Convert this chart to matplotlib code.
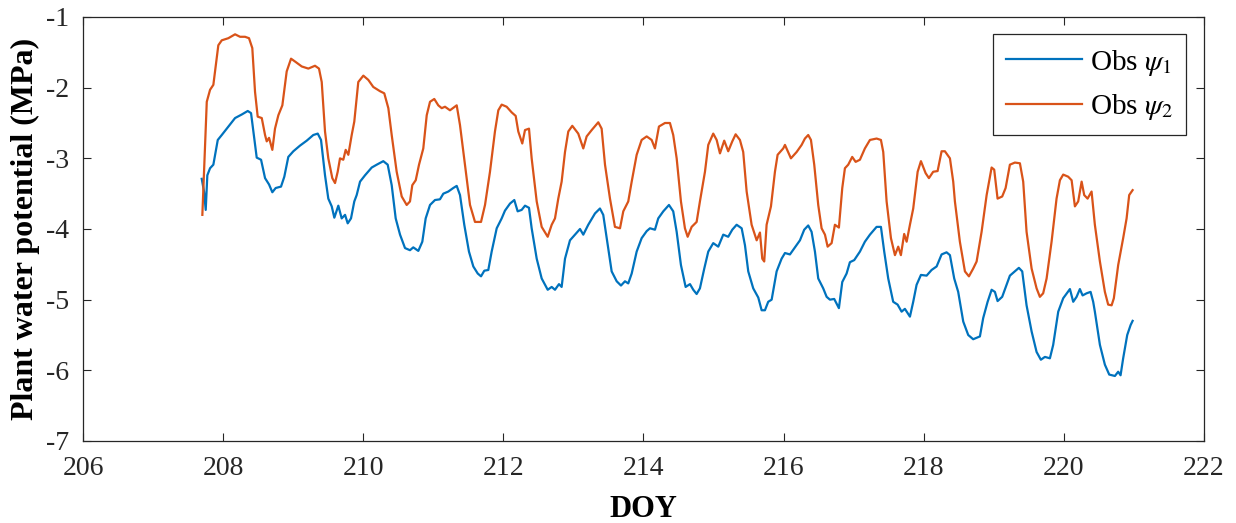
import numpy as np
import matplotlib
matplotlib.use("Agg")
import matplotlib.pyplot as plt

plt.rcParams['font.family'] = ['Liberation Serif', 'DejaVu Serif']
plt.rcParams['mathtext.fontset'] = 'stix'
plt.rcParams['axes.unicode_minus'] = False

# observed psi_1 (blue)
doy1 = [207.694, 207.727, 207.751, 207.774, 207.813, 207.860, 207.923, 207.980, 208.074, 208.170,
        208.265, 208.351, 208.398, 208.445, 208.479, 208.541, 208.598, 208.655, 208.702, 208.750,
        208.826, 208.873, 208.930, 209.002, 209.097, 209.193, 209.287, 209.350, 209.397, 209.454,
        209.501, 209.550, 209.587, 209.644, 209.692, 209.740, 209.778, 209.825, 209.872, 209.906,
        209.954, 210.025, 210.121, 210.192, 210.286, 210.349, 210.406, 210.463, 210.525, 210.596,
        210.667, 210.714, 210.786, 210.843, 210.891, 210.953, 211.024, 211.095, 211.143, 211.214,
        211.285, 211.334, 211.381, 211.442, 211.509, 211.571, 211.634, 211.681, 211.728, 211.785,
        211.833, 211.905, 211.976, 212.023, 212.095, 212.156, 212.204, 212.261, 212.309, 212.366,
        212.404, 212.476, 212.547, 212.633, 212.690, 212.737, 212.794, 212.832, 212.880, 212.951,
        213.023, 213.094, 213.141, 213.212, 213.308, 213.379, 213.426, 213.475, 213.546, 213.618,
        213.679, 213.736, 213.783, 213.832, 213.903, 213.974, 214.046, 214.093, 214.164, 214.211,
        214.283, 214.364, 214.425, 214.474, 214.535, 214.602, 214.664, 214.711, 214.759, 214.806,
        214.868, 214.925, 214.996, 215.068, 215.139, 215.210, 215.268, 215.330, 215.402, 215.449,
        215.496, 215.567, 215.639, 215.687, 215.734, 215.781, 215.830, 215.901, 215.972, 216.020,
        216.091, 216.162, 216.234, 216.295, 216.352, 216.400, 216.448, 216.495, 216.566, 216.615,
        216.662, 216.723, 216.790, 216.838, 216.900, 216.947, 217.009, 217.090, 217.161, 217.233,
        217.328, 217.390, 217.437, 217.494, 217.565, 217.628, 217.685, 217.732, 217.804, 217.851,
        217.899, 217.961, 218.042, 218.113, 218.185, 218.256, 218.327, 218.375, 218.436, 218.493,
        218.565, 218.636, 218.707, 218.803, 218.850, 218.913, 218.970, 219.017, 219.055, 219.121,
        219.184, 219.231, 219.302, 219.359, 219.407, 219.469, 219.541, 219.612, 219.673, 219.731,
        219.802, 219.849, 219.921, 219.992, 220.088, 220.135, 220.183, 220.230, 220.269, 220.326,
        220.383, 220.420, 220.444, 220.516, 220.587, 220.649, 220.730, 220.777, 220.811, 220.848,
        220.906, 220.954, 220.983]
psi1 = [-3.29, -3.47, -3.73, -3.24, -3.14, -3.09, -2.74, -2.67, -2.55, -2.43,
        -2.38, -2.33, -2.36, -2.72, -2.99, -3.02, -3.28, -3.37, -3.48, -3.42,
        -3.40, -3.26, -2.98, -2.90, -2.82, -2.75, -2.67, -2.65, -2.74, -3.24,
        -3.57, -3.68, -3.84, -3.67, -3.85, -3.80, -3.92, -3.85, -3.61, -3.52,
        -3.33, -3.24, -3.13, -3.09, -3.04, -3.09, -3.38, -3.85, -4.08, -4.27,
        -4.30, -4.26, -4.31, -4.18, -3.85, -3.66, -3.59, -3.58, -3.50, -3.47,
        -3.42, -3.39, -3.52, -3.94, -4.32, -4.53, -4.63, -4.67, -4.59, -4.58,
        -4.32, -3.99, -3.85, -3.74, -3.64, -3.59, -3.75, -3.73, -3.67, -3.70,
        -3.99, -4.42, -4.70, -4.86, -4.82, -4.86, -4.78, -4.82, -4.42, -4.16,
        -4.08, -4.00, -4.08, -3.94, -3.78, -3.71, -3.80, -4.13, -4.60, -4.74,
        -4.80, -4.74, -4.77, -4.63, -4.32, -4.13, -4.03, -3.99, -4.01, -3.85,
        -3.75, -3.66, -3.75, -4.04, -4.51, -4.82, -4.78, -4.86, -4.92, -4.84,
        -4.56, -4.32, -4.20, -4.25, -4.08, -4.11, -4.01, -3.94, -3.99, -4.23,
        -4.60, -4.84, -4.97, -5.15, -5.15, -5.03, -5.00, -4.60, -4.42, -4.34,
        -4.36, -4.26, -4.16, -4.01, -3.95, -4.04, -4.32, -4.70, -4.84, -4.96,
        -5.00, -4.99, -5.12, -4.75, -4.63, -4.47, -4.44, -4.32, -4.18, -4.08,
        -3.97, -3.97, -4.32, -4.70, -5.03, -5.07, -5.17, -5.13, -5.24, -5.03,
        -4.79, -4.65, -4.66, -4.58, -4.53, -4.36, -4.33, -4.37, -4.70, -4.89,
        -5.31, -5.50, -5.56, -5.52, -5.26, -5.03, -4.86, -4.89, -5.02, -4.96,
        -4.79, -4.66, -4.60, -4.55, -4.60, -5.08, -5.45, -5.74, -5.85, -5.81,
        -5.83, -5.64, -5.17, -4.98, -4.85, -5.03, -4.96, -4.85, -4.94, -4.91,
        -4.89, -5.03, -5.17, -5.64, -5.92, -6.06, -6.08, -6.02, -6.07, -5.83,
        -5.50, -5.36, -5.30]

# observed psi_2 (orange)
doy2 = [207.703, 207.766, 207.813, 207.860, 207.931, 207.980, 208.074, 208.170, 208.241, 208.312,
        208.369, 208.416, 208.455, 208.493, 208.551, 208.598, 208.622, 208.655, 208.702, 208.740,
        208.788, 208.845, 208.907, 208.969, 209.026, 209.122, 209.216, 209.311, 209.368, 209.407,
        209.454, 209.501, 209.558, 209.597, 209.635, 209.668, 209.715, 209.749, 209.787, 209.835,
        209.872, 209.929, 210.001, 210.072, 210.143, 210.239, 210.300, 210.358, 210.406, 210.477,
        210.549, 210.620, 210.667, 210.700, 210.749, 210.796, 210.857, 210.906, 210.953, 211.014,
        211.071, 211.120, 211.167, 211.238, 211.334, 211.381, 211.452, 211.524, 211.595, 211.681,
        211.738, 211.809, 211.880, 211.928, 211.976, 212.047, 212.119, 212.176, 212.213, 212.270,
        212.309, 212.366, 212.404, 212.476, 212.547, 212.633, 212.690, 212.737, 212.784, 212.832,
        212.880, 212.927, 212.984, 213.069, 213.141, 213.189, 213.261, 213.355, 213.403, 213.451,
        213.522, 213.593, 213.665, 213.712, 213.783, 213.832, 213.903, 213.974, 214.046, 214.117,
        214.164, 214.221, 214.307, 214.378, 214.425, 214.474, 214.535, 214.592, 214.631, 214.688,
        214.759, 214.806, 214.878, 214.925, 214.996, 215.045, 215.092, 215.153, 215.210, 215.268,
        215.316, 215.377, 215.424, 215.473, 215.544, 215.616, 215.663, 215.696, 215.724, 215.758,
        215.820, 215.877, 215.915, 215.995, 216.020, 216.105, 216.187, 216.258, 216.305, 216.352,
        216.391, 216.438, 216.495, 216.543, 216.591, 216.629, 216.686, 216.733, 216.790, 216.838,
        216.876, 216.923, 216.980, 217.029, 217.090, 217.161, 217.233, 217.328, 217.390, 217.423,
        217.471, 217.533, 217.590, 217.637, 217.675, 217.722, 217.757, 217.804, 217.851, 217.914,
        217.961, 218.028, 218.075, 218.136, 218.199, 218.256, 218.303, 218.375, 218.422, 218.446,
        218.517, 218.589, 218.646, 218.707, 218.756, 218.827, 218.899, 218.970, 219.007, 219.055,
        219.121, 219.170, 219.231, 219.302, 219.374, 219.421, 219.469, 219.541, 219.612, 219.659,
        219.706, 219.755, 219.826, 219.897, 219.945, 219.992, 220.063, 220.112, 220.159, 220.206,
        220.255, 220.292, 220.340, 220.397, 220.444, 220.516, 220.587, 220.634, 220.683, 220.715,
        220.777, 220.848, 220.897, 220.934, 220.983]
psi2 = [-3.80, -2.20, -2.03, -1.96, -1.40, -1.33, -1.30, -1.245, -1.28, -1.28,
        -1.30, -1.44, -2.06, -2.41, -2.43, -2.67, -2.76, -2.71, -2.88, -2.58,
        -2.39, -2.25, -1.77, -1.59, -1.63, -1.70, -1.73, -1.69, -1.73, -1.92,
        -2.62, -3.00, -3.28, -3.35, -3.19, -3.00, -3.02, -2.88, -2.95, -2.67,
        -2.48, -1.92, -1.83, -1.89, -1.99, -2.05, -2.08, -2.29, -2.67, -3.19,
        -3.54, -3.66, -3.61, -3.38, -3.31, -3.09, -2.86, -2.39, -2.20, -2.16,
        -2.25, -2.29, -2.27, -2.32, -2.25, -2.53, -3.09, -3.66, -3.90, -3.90,
        -3.66, -3.19, -2.62, -2.32, -2.24, -2.27, -2.35, -2.40, -2.62, -2.79,
        -2.60, -2.58, -3.00, -3.61, -3.97, -4.11, -3.94, -3.85, -3.57, -3.33,
        -2.91, -2.62, -2.54, -2.65, -2.86, -2.69, -2.60, -2.49, -2.58, -3.09,
        -3.57, -3.97, -3.99, -3.75, -3.61, -3.33, -2.95, -2.74, -2.69, -2.74,
        -2.86, -2.55, -2.50, -2.50, -2.67, -3.00, -3.61, -3.99, -4.11, -3.97,
        -3.90, -3.61, -3.19, -2.81, -2.65, -2.74, -2.93, -2.75, -2.90, -2.76,
        -2.66, -2.74, -2.91, -3.47, -3.94, -4.16, -4.05, -4.42, -4.46, -3.94,
        -3.68, -3.19, -2.95, -2.86, -2.81, -3.00, -2.91, -2.81, -2.72, -2.67,
        -2.74, -3.09, -3.66, -3.99, -4.08, -4.25, -4.20, -3.94, -3.98, -3.42,
        -3.14, -3.09, -2.98, -3.05, -3.02, -2.86, -2.74, -2.72, -2.74, -2.91,
        -3.61, -4.13, -4.37, -4.25, -4.37, -4.07, -4.18, -3.94, -3.71, -3.19,
        -3.04, -3.21, -3.28, -3.19, -3.18, -2.90, -2.90, -3.00, -3.33, -3.61,
        -4.18, -4.60, -4.67, -4.56, -4.46, -4.04, -3.52, -3.13, -3.16, -3.57,
        -3.54, -3.42, -3.09, -3.06, -3.07, -3.33, -4.04, -4.56, -4.84, -4.96,
        -4.91, -4.70, -4.18, -3.57, -3.31, -3.23, -3.26, -3.31, -3.68, -3.61,
        -3.33, -3.52, -3.57, -3.47, -3.94, -4.46, -4.89, -5.07, -5.08, -4.98,
        -4.51, -4.13, -3.85, -3.52, -3.45]

labels = [r'Obs $\psi_1$', r'Obs $\psi_2$']
xticks = np.arange(206, 223, 2)
yticks = np.arange(-7, 0, 1)

fig = plt.figure(figsize=(12.36, 5.23), dpi=100)
ax = fig.add_axes([0.0672, 0.1568, 0.9068, 0.8107])

ax.plot(doy1, psi1, color='#0072BD', lw=1.6, label=labels[0])
ax.plot(doy2, psi2, color='#D95319', lw=1.6, label=labels[1])

ax.set_xlim(206, 222)
ax.set_ylim(-7, -1)
ax.set_xticks(xticks)
ax.set_yticks(yticks)
ax.tick_params(direction='in', top=True, right=True, length=6, width=0.8,
               labelsize=20, colors='#262626')
ax.tick_params(axis='x', pad=11)
ax.tick_params(axis='y', pad=10)
for s in ax.spines.values():
    s.set_color('#262626')
    s.set_linewidth(0.9)

ax.set_xlabel('DOY', fontsize=22, fontweight='bold', labelpad=10)
ax.set_ylabel('Plant water potential (MPa)', fontsize=23, fontweight='bold', labelpad=4)

leg = ax.legend(loc='upper right', fontsize=21, handlelength=2.6, fancybox=False,
                framealpha=1, edgecolor='#262626', borderaxespad=0.6,
                handletextpad=0.3, labelspacing=0.5, borderpad=0.45)
leg.get_frame().set_linewidth(0.9)

fig.savefig('out.png', dpi=100)
